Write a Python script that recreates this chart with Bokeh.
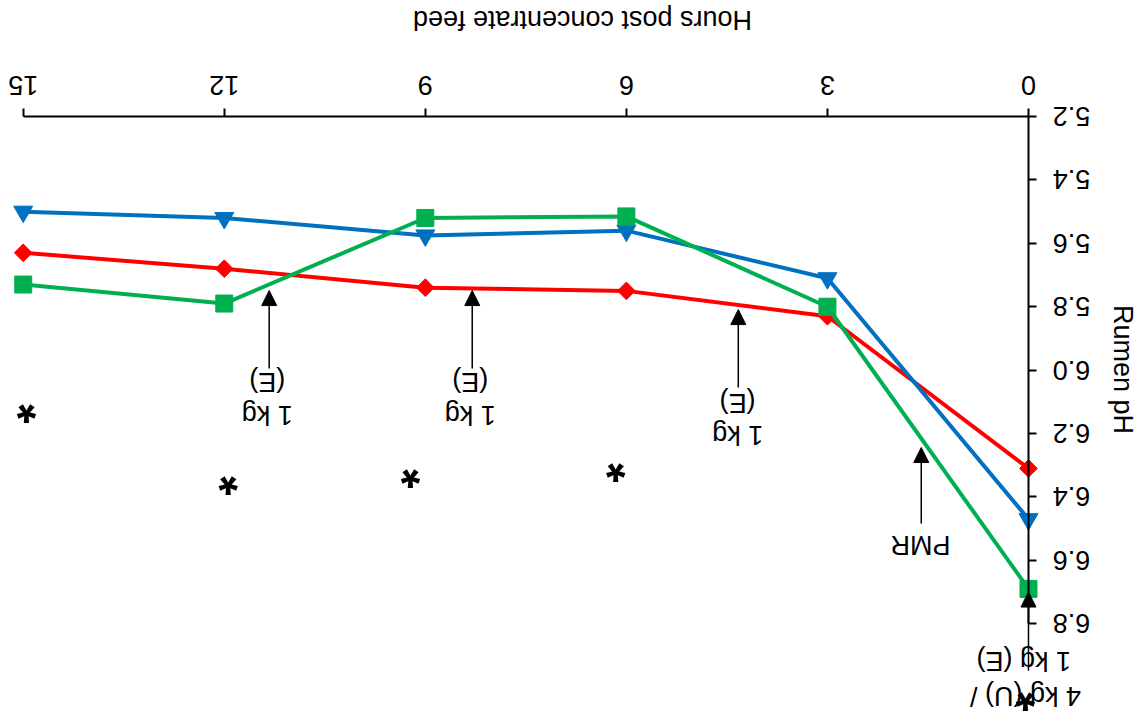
import math

from bokeh.plotting import figure
from bokeh.models import (Range1d, LinearAxis, FixedTicker, Arrow, NormalHead,
                          ColumnDataSource)
from bokeh.core.properties import value
from bokeh.embed import file_html
from bokeh.resources import INLINE

# Rumen pH after the concentrate feed, one series per diet
hours = [0, 3, 6, 9, 12, 15]
ph_red = [6.31, 5.83, 5.75, 5.74, 5.68, 5.63]
ph_blue = [6.47, 5.71, 5.56, 5.575, 5.52, 5.50]
ph_green = [6.69, 5.80, 5.515, 5.52, 5.79, 5.73]

x_ticks = [0, 3, 6, 9, 12, 15]
x_tick_labels = ["0", "3", "6", "9", "12", "15"]
y_ticks = [5.2, 5.4, 5.6, 5.8, 6.0, 6.2, 6.4, 6.6, 6.8]
y_tick_labels = ["5.2", "5.4", "5.6", "5.8", "6.0", "6.2", "6.4", "6.6", "6.8"]

# significance markers
star_x = [0.045, 6.16, 9.22, 11.94, 14.95]
star_y = [7.048, 6.326, 6.342, 6.364, 6.137]

# feeding events: arrow base, arrow tip
arrow_x = [4.33, 8.30, 11.33, 1.60, 0.0]
arrow_y0 = [6.055, 5.995, 5.995, 6.484, 6.948]
arrow_y1 = [5.809, 5.749, 5.749, 6.244, 6.700]

note_x = [4.34, 4.34, 8.33, 8.33, 11.36, 11.36, 1.61, 0.07, 0.045]
note_y = [6.105, 6.206, 6.039, 6.143, 6.039, 6.143, 6.553, 6.916, 7.027]
note_text = ["(E)", "1 kg", "(E)", "1 kg", "(E)", "1 kg", "PMR", "1 kg (E)", "4 kg (U) /"]

x_title = "Hours post concentrate feed"
y_title = "Rumen pH"

FONT = value("Liberation Sans")
FS = "27px"

p = figure(width=1146, height=725,
           x_range=Range1d(15.339, -1.761), y_range=Range1d(7.121, 4.834),
           output_backend="svg", toolbar_location=None,
           x_axis_location=None, y_axis_location=None,
           min_border=0)
p.outline_line_color = None
p.grid.visible = False
p.background_fill_color = "white"
p.border_fill_color = "white"

# axes sit at hour 0 and pH 5.2; their tick labels are drawn turned half a turn below
xaxis = LinearAxis(fixed_location=5.2, bounds=(0, 15),
                   ticker=FixedTicker(ticks=x_ticks),
                   major_label_overrides={t: "" for t in x_ticks})
yaxis = LinearAxis(fixed_location=0, bounds=(5.2, 6.8),
                   ticker=FixedTicker(ticks=y_ticks),
                   major_label_overrides={t: "" for t in y_ticks})
for ax in (xaxis, yaxis):
    ax.axis_line_width = 2
    ax.axis_line_color = "black"
    ax.major_tick_line_width = 2
    ax.major_tick_line_color = "black"
    ax.major_tick_in = 0
    ax.major_tick_out = 8
    ax.minor_tick_line_color = None
p.add_layout(xaxis, "above")
p.add_layout(yaxis, "right")

tick_style = dict(angle=math.pi, text_align="center", text_baseline="middle",
                  text_font=FONT, text_font_size=FS, text_color="black")
p.text(x_ticks, [5.2] * len(x_ticks), text=x_tick_labels, y_offset=-31, **tick_style)
p.text([0] * len(y_ticks), y_ticks, text=y_tick_labels, x_offset=43, **tick_style)

# series
p.line(hours, ph_red, line_color="#FF0000", line_width=4)
p.scatter(hours, ph_red, marker="square", angle=math.pi / 4, size=12.5,
          fill_color="#FF0000", line_color="#FF0000")
p.line(hours, ph_blue, line_color="#0070C0", line_width=4)
p.scatter(hours, ph_blue, marker="inverted_triangle", size=19,
          fill_color="#0070C0", line_color="#0070C0")
p.line(hours, ph_green, line_color="#00B050", line_width=4)
p.scatter(hours, ph_green, marker="square", size=17,
          fill_color="#00B050", line_color="#00B050")

# arrows and notes
arrows = ColumnDataSource(dict(x0=arrow_x, y0=arrow_y0, x1=arrow_x, y1=arrow_y1))
p.add_layout(Arrow(x_start="x0", y_start="y0", x_end="x1", y_end="y1",
                   source=arrows, line_color="black", line_width=1.5,
                   end=NormalHead(size=15, fill_color="black", line_color="black")))

p.text(note_x, note_y, text=note_text, **tick_style)

p.text(star_x, star_y, text=["*"] * len(star_x), y_offset=-9, angle=math.pi,
       text_align="center", text_baseline="middle",
       text_font=FONT, text_font_size="50px", text_font_style="bold",
       text_color="black")

# axis titles
p.text([6.655], [4.897], text=[x_title], **tick_style)
p.text([-1.4175], [5.998], text=[y_title], angle=-math.pi / 2,
       text_align="center", text_baseline="middle",
       text_font=FONT, text_font_size=FS, text_color="black")

open("out.html", "w").write(file_html(p, INLINE))
